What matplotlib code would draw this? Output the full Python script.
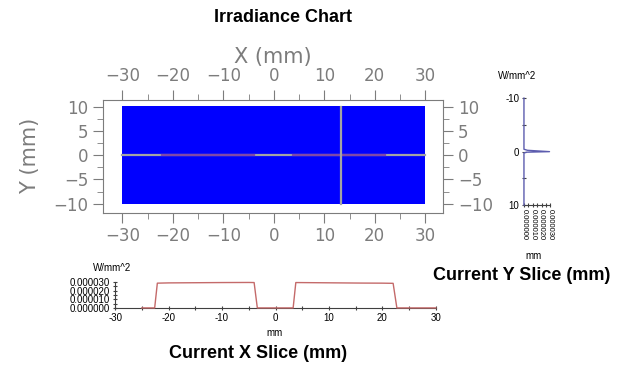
"""Irradiance chart: false-colour map with X and Y slice profiles."""
import matplotlib

matplotlib.use("Agg")
import matplotlib.pyplot as plt  # noqa: E402
import numpy as np  # noqa: E402
from matplotlib.colors import ListedColormap  # noqa: E402
from matplotlib.ticker import FixedLocator, MultipleLocator  # noqa: E402

# --- data ------------------------------------------------------------------
x_range = [-30, 30]           # mm, detector extent
y_range = [-10, 10]
irr_grid = [[0.0, 0.0], [0.0, 0.0]]   # map is below colour threshold everywhere
x_cut = 13.4                  # mm, position of the current Y slice
y_cut = 0.0                   # mm, position of the current X slice

# current X slice (W/mm^2 vs mm)
x_slice_pos = [-25.0, -22.6, -22.1, -20.0, -15.0, -10.0, -5.0, -4.0,
               -3.4, 0.0, 3.3, 3.8, 8.0, 12.0, 16.0, 20.0, 22.0, 22.7, 30.0]
x_slice_val = [0.0, 0.0, 2.85e-5, 2.88e-5, 2.90e-5, 2.92e-5, 2.93e-5, 2.92e-5,
               0.0, 0.0, 0.0, 2.92e-5, 2.90e-5, 2.88e-5, 2.86e-5, 2.85e-5, 2.83e-5, 0.0, 0.0]

# current Y slice (W/mm^2 vs mm)
y_slice_pos = [-10.0, -0.45, -0.25, 0.0, 0.1, 0.25, 10.0]
y_slice_val = [0.0, 0.0, 4.0e-6, 2.9e-5, 3.0e-6, 0.0, 0.0]

GRAY = "#7c7c7c"
RED = "#c46a6a"
VIOLET = "#5c5cae"

fig = plt.figure(figsize=(6.29, 3.67), dpi=100)

# --- main map --------------------------------------------------------------
ax = fig.add_axes([0.164, 0.420, 0.541, 0.308])
ax.imshow(irr_grid, extent=[*x_range, *y_range], cmap=ListedColormap(["#0000ff"]),
          vmin=0, vmax=1, aspect="auto", origin="lower", zorder=1)
ax.plot(x_range, [y_cut, y_cut], color="#a4a4a4", lw=1.6, zorder=2)
lit = np.where(np.array(x_slice_val) > 0, y_cut, np.nan)
ax.plot(x_slice_pos, lit, color="#8048a8", lw=1.6, zorder=3)
ax.plot([x_cut, x_cut], y_range, color="#a4a4a4", lw=1.6, zorder=4)
ax.set_xlim(-33.8, 33.6)
ax.set_ylim(-11.9, 11.4)
for sp in ax.spines.values():
    sp.set_color(GRAY)
ax.xaxis.set_major_locator(MultipleLocator(10))
ax.xaxis.set_minor_locator(MultipleLocator(5))
ax.yaxis.set_major_locator(MultipleLocator(5))
ax.yaxis.set_minor_locator(MultipleLocator(2.5))
ax.tick_params(which="both", direction="out", color=GRAY, labelcolor=GRAY,
               top=True, right=True, labeltop=True, labelright=True, labelsize=12)
ax.tick_params(which="major", length=7)
ax.tick_params(which="minor", length=4)
ax.xaxis.set_label_position("top")
ax.set_xlabel("X (mm)", fontsize=15, color=GRAY, labelpad=3)
ax.set_ylabel("Y (mm)", fontsize=15, color=GRAY, labelpad=10)

fig.text(0.45, 0.952, "Irradiance Chart", ha="center", va="center",
         fontsize=13, fontweight="bold", family="Liberation Sans")

# --- X slice -----------------------------------------------------------------
axx = fig.add_axes([0.183, 0.161, 0.510, 0.071])
axx.plot(x_slice_pos, x_slice_val, color=RED, lw=1.0, clip_on=False, zorder=3)
axx.set_xlim(-30, 30)
axx.set_ylim(0, 3.0e-5)
axx.spines[["top", "right"]].set_visible(False)
for side in ("left", "bottom"):
    axx.spines[side].set_color("#404040")
    axx.spines[side].set_linewidth(0.8)
axx.xaxis.set_major_locator(MultipleLocator(10))
axx.xaxis.set_minor_locator(MultipleLocator(5))
axx.yaxis.set_major_locator(MultipleLocator(1.0e-5))
axx.yaxis.set_minor_locator(MultipleLocator(5.0e-6))
axx.yaxis.set_major_formatter(lambda v, p: f"{v:.6f}")
axx.xaxis.set_major_formatter(lambda v, p: f"{v:.0f}".replace("\u2212", "-"))
axx.tick_params(which="both", direction="inout", color="#404040", labelsize=7,
                length=3, width=0.8, pad=2)
for lab in axx.get_xticklabels() + axx.get_yticklabels():
    lab.set_family("Liberation Sans")
fig.text(0.178, 0.270, "W/mm^2", ha="center", va="center", fontsize=7,
         family="Liberation Sans")
fig.text(0.437, 0.093, "mm", ha="center", va="center", fontsize=7,
         family="Liberation Sans")
fig.text(0.41, 0.037, "Current X Slice (mm)", ha="center", va="center",
         fontsize=13, fontweight="bold", family="Liberation Sans")

# --- Y slice -----------------------------------------------------------------
axy = fig.add_axes([0.833, 0.441, 0.042, 0.2916])
axy.plot(y_slice_val, y_slice_pos, color=VIOLET, lw=1.0, clip_on=False, zorder=3)
axy.set_xlim(0, 3.0e-5)
axy.set_ylim(10, -10)
axy.spines[["top", "right", "left"]].set_visible(False)
axy.spines["bottom"].set_color("#404040")
axy.spines["bottom"].set_linewidth(0.8)
axy.yaxis.set_major_locator(FixedLocator([-10, 0, 10]))
axy.yaxis.set_minor_locator(FixedLocator([-5, 5]))
axy.yaxis.set_major_formatter(lambda v, p: f"{v:.0f}".replace("\u2212", "-"))
axy.xaxis.set_major_locator(MultipleLocator(1.0e-5))
axy.xaxis.set_minor_locator(MultipleLocator(5.0e-6))
axy.xaxis.set_major_formatter(lambda v, p: f"{v:.6f}")
axy.tick_params(which="both", direction="inout", color="#404040", labelsize=7,
                length=3, width=0.8, pad=2)
axy.tick_params(axis="x", labelrotation=270, labelsize=5.5, pad=1)
for lab in axy.get_xticklabels() + axy.get_yticklabels():
    lab.set_family("Liberation Sans")
fig.text(0.822, 0.793, "W/mm^2", ha="center", va="center", fontsize=7,
         family="Liberation Sans")
fig.text(0.849, 0.302, "mm", ha="center", va="center", fontsize=7,
         family="Liberation Sans")
fig.text(0.829, 0.250, "Current Y Slice (mm)", ha="center", va="center",
         fontsize=13, fontweight="bold", family="Liberation Sans")

fig.savefig("out.png", dpi=100)
